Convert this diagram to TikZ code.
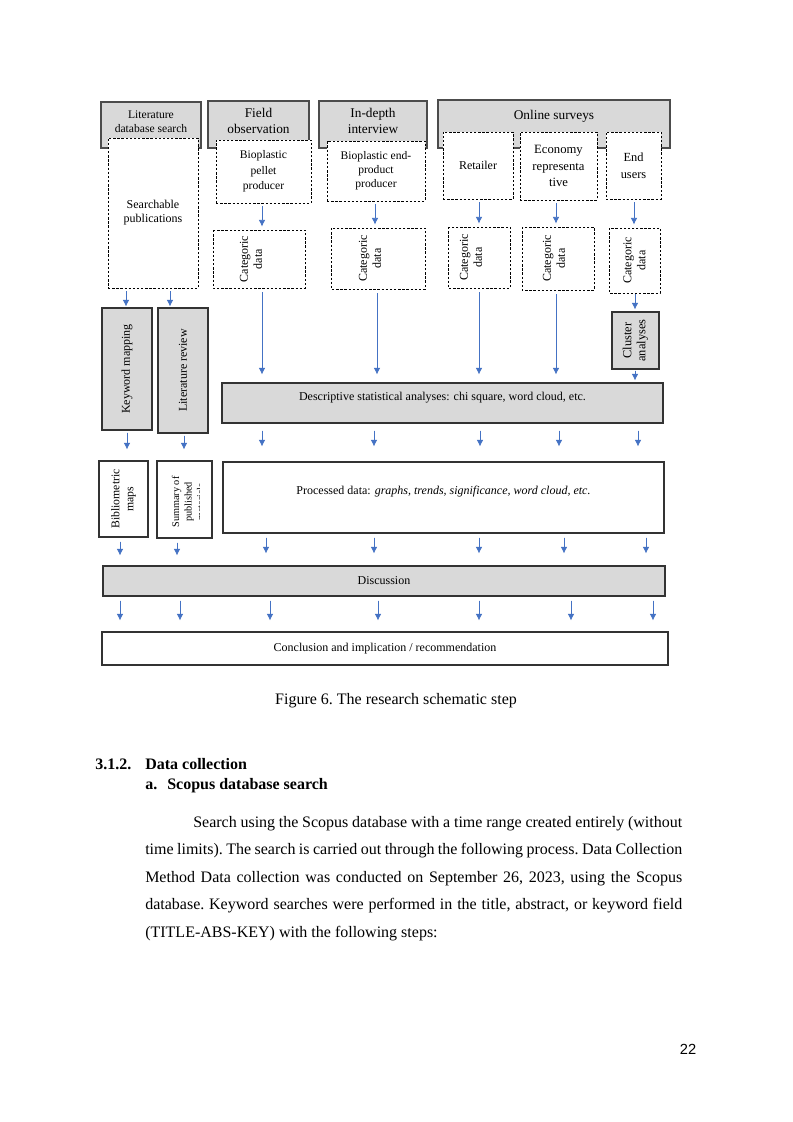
\documentclass[tikz,border=0pt]{standalone}
\usepackage{fontspec}
\setmainfont{Liberation Serif}
\newfontfamily\pagenumfont{Liberation Sans}
\usepackage{xcolor}
\usetikzlibrary{arrows.meta}
\definecolor{arrblue}{HTML}{4472C4}

\begin{document}
\begin{tikzpicture}[
  x=0.75pt, y=-0.75pt,
  font=\fontsize{9}{10.5}\selectfont,
  hdrbox/.style={draw=black!70, line width=0.9pt, fill=black!15, align=center, inner sep=1pt},
  grpbox/.style={draw=black, dash pattern=on 1.8pt off 1.3pt, line width=0.7pt, fill=white, align=center, inner sep=1pt},
  graybox/.style={draw=black!80, line width=0.8pt, fill=black!15, align=center, inner sep=1pt},
  whitebox/.style={draw=black!80, line width=0.8pt, fill=white, align=center, inner sep=1pt},
  arr/.style={-{Latex[length=5pt, width=5pt]}, draw=arrblue, fill=arrblue, line width=0.6pt},
  bodytext/.style={font=\frenchspacing\fontsize{12}{20.6}\selectfont, inner sep=0pt}
]
  \path[fill=white] (0,0) rectangle (793,1122);

  % Row 1: data sources
  \node[hdrbox, minimum width=75pt, minimum height=34.5pt, text depth=5pt, font=\fontsize{8.7}{10.5}\selectfont] (lit) at (151,125) {Literature\\database search};
  \node[hdrbox, minimum width=75.75pt, minimum height=35.25pt, text depth=5pt, font=\fontsize{10}{12}\selectfont] (fld) at (258.5,124.5) {Field\\observation};
  \node[hdrbox, minimum width=81pt, minimum height=35.25pt, text depth=5pt, font=\fontsize{10}{12}\selectfont] (idi) at (373,124.5) {In-depth\\interview};
  \node[hdrbox, minimum width=174pt, minimum height=36pt, text depth=14pt, font=\fontsize{10}{12}\selectfont] (ons) at (554,124) {Online surveys};

  % Row 2: respondents / publications
  \node[grpbox, minimum width=67.5pt, minimum height=112.5pt] (pub) at (153,213) {Searchable\\publications};
  \node[grpbox, minimum width=71.25pt, minimum height=47.25pt, font=\fontsize{8.7}{11.6}\selectfont] (bpp) at (263.5,171.5) {Bioplastic\\pellet\\producer};
  \node[grpbox, minimum width=73.5pt, minimum height=45pt, font=\fontsize{8.7}{10.5}\selectfont] (bep) at (376,171) {Bioplastic end-\\product\\producer};
  \node[grpbox, minimum width=52.5pt, minimum height=50.25pt] (ret) at (478,165.5) {Retailer};
  \node[grpbox, minimum width=57.75pt, minimum height=51pt, font=\fontsize{9.5}{12.4}\selectfont] (eco) at (558.5,166) {Economy\\representa\\tive};
  \node[grpbox, minimum width=41.25pt, minimum height=50.25pt, font=\fontsize{9.3}{12.75}\selectfont] (end) at (633.5,165.5) {End\\users};

  % Row 3: categoric data
  \node[grpbox, rotate=90, minimum width=43.5pt, minimum height=69pt, text depth=12pt] (cat1) at (259,259) {Categoric\\data};
  \node[grpbox, rotate=90, minimum width=45.75pt, minimum height=70.5pt, text depth=12pt] (cat2) at (378,258.5) {Categoric\\data};
  \node[grpbox, rotate=90, minimum width=45.75pt, minimum height=46.5pt, text depth=12pt] (cat3) at (479,257.5) {Categoric\\data};
  \node[grpbox, rotate=90, minimum width=47.25pt, minimum height=54pt, text depth=6pt] (cat4) at (558,258.5) {Categoric\\data};
  \node[grpbox, rotate=90, minimum width=48.75pt, minimum height=38.25pt] (cat5) at (634.5,260.5) {Categoric\\data};

  % Row 4: analyses
  \node[graybox, rotate=90, minimum width=91.5pt, minimum height=37.5pt] (kwm) at (127,369) {Keyword mapping};
  \node[graybox, rotate=90, minimum width=93.75pt, minimum height=37.5pt] (lrv) at (183,370.5) {Literature review};
  \node[graybox, rotate=90, minimum width=42.75pt, minimum height=35.25pt, font=\fontsize{9.3}{10.5}\selectfont] (clu) at (635.5,340.5) {Cluster\\analyses};
  \node[graybox, minimum width=330.75pt, minimum height=30pt, text depth=10pt] (des) at (442.5,403) {Descriptive statistical analyses: chi square, word cloud, etc.};

  % Row 5: results
  \node[whitebox, rotate=90, minimum width=57pt, minimum height=36.75pt, font=\fontsize{8.8}{10.5}\selectfont] (bib) at (123.5,499) {Bibliometric\\maps};
  \node[whitebox, rotate=90, minimum width=57.75pt, minimum height=41.25pt] (sum) at (184.5,499.5) {};
  \begin{scope}
    \clip (157,461) rectangle (199.5,538);
    \node[rotate=90, align=center, inner sep=0pt, font=\fontsize{7.7}{9.4}\selectfont] (sumtxt) at (188,502) {Summary of\\published\\materials};
  \end{scope}
  \node[whitebox, minimum width=330.75pt, minimum height=53.25pt, text depth=11.6pt] (prc) at (443.5,497.5) {Processed data: \textit{graphs, trends, significance, word cloud, etc.}};

  % Row 6-7: discussion and conclusion
  \node[graybox, minimum width=421.5pt, minimum height=22.5pt] (dis) at (384,581) {Discussion};
  \node[whitebox, minimum width=424.5pt, minimum height=24.75pt] (con) at (385,648.5) {Conclusion and implication / recommendation};

  % Connectors
  \draw[arr, shorten <=2.25pt, shorten >=0.75pt] (pub.south -| 126,0) -- (kwm.east -| 126,0);
  \draw[arr, shorten <=2.25pt, shorten >=0.75pt] (pub.south -| 170,0) -- (lrv.east -| 170,0);
  \draw[arr, shorten <=2.25pt, shorten >=2.25pt] (bpp.south -| 262,0) -- (cat1.east -| 262,0);
  \draw[arr, shorten <=2.25pt, shorten >=2.25pt] (bep.south -| 375,0) -- (cat2.east -| 375,0);
  \draw[arr, shorten <=2.25pt, shorten >=2.25pt] (ret.south -| 479,0) -- (cat3.east -| 479,0);
  \draw[arr, shorten <=2.25pt, shorten >=2.25pt] (eco.south -| 556,0) -- (cat4.east -| 556,0);
  \draw[arr, shorten <=2.25pt, shorten >=2.25pt] (end.south -| 634,0) -- (cat5.east -| 634,0);

  \draw[arr, shorten <=3pt, shorten >=6pt] (cat1.west -| 262,0) -- (des.north -| 262,0);
  \draw[arr, shorten <=3pt, shorten >=6pt] (cat2.west -| 377,0) -- (des.north -| 377,0);
  \draw[arr, shorten <=3pt, shorten >=6pt] (cat3.west -| 479,0) -- (des.north -| 479,0);
  \draw[arr, shorten <=3pt, shorten >=6pt] (cat4.west -| 556,0) -- (des.north -| 556,0);
  \draw[arr, shorten <=0.75pt, shorten >=1.5pt] (cat5.west -| 635,0) -- (clu.east -| 635,0);
  \draw[arr, shorten <=0.75pt, shorten >=1.5pt] (clu.west -| 635,0) -- (des.north -| 635,0);

  \draw[arr, shorten <=1.5pt, shorten >=8.25pt] (kwm.west -| 127,0) -- (bib.east -| 127,0);
  \draw[arr, shorten <=1.5pt, shorten >=8.25pt] (lrv.west -| 184,0) -- (sum.east -| 184,0);
  \draw[arr, shorten <=5.25pt, shorten >=11.25pt] (des.south -| 262,0) -- (prc.north -| 262,0);
  \draw[arr, shorten <=5.25pt, shorten >=11.25pt] (des.south -| 374,0) -- (prc.north -| 374,0);
  \draw[arr, shorten <=5.25pt, shorten >=11.25pt] (des.south -| 480,0) -- (prc.north -| 480,0);
  \draw[arr, shorten <=5.25pt, shorten >=11.25pt] (des.south -| 559,0) -- (prc.north -| 559,0);
  \draw[arr, shorten <=5.25pt, shorten >=11.25pt] (des.south -| 638,0) -- (prc.north -| 638,0);

  \draw[arr, shorten <=3pt, shorten >=7.5pt] (bib.west -| 120,0) -- (dis.north -| 120,0);
  \draw[arr, shorten <=3pt, shorten >=7.5pt] (sum.west -| 177,0) -- (dis.north -| 177,0);
  \draw[arr, shorten <=3pt, shorten >=9pt] (prc.south -| 266,0) -- (dis.north -| 266,0);
  \draw[arr, shorten <=3pt, shorten >=9pt] (prc.south -| 374,0) -- (dis.north -| 374,0);
  \draw[arr, shorten <=3pt, shorten >=9pt] (prc.south -| 479,0) -- (dis.north -| 479,0);
  \draw[arr, shorten <=3pt, shorten >=9pt] (prc.south -| 564,0) -- (dis.north -| 564,0);
  \draw[arr, shorten <=3pt, shorten >=9pt] (prc.south -| 646,0) -- (dis.north -| 646,0);

  \draw[arr, shorten <=3pt, shorten >=8.25pt] (dis.south -| 120,0) -- (con.north -| 120,0);
  \draw[arr, shorten <=3pt, shorten >=8.25pt] (dis.south -| 180,0) -- (con.north -| 180,0);
  \draw[arr, shorten <=3pt, shorten >=8.25pt] (dis.south -| 270,0) -- (con.north -| 270,0);
  \draw[arr, shorten <=3pt, shorten >=8.25pt] (dis.south -| 378,0) -- (con.north -| 378,0);
  \draw[arr, shorten <=3pt, shorten >=8.25pt] (dis.south -| 479,0) -- (con.north -| 479,0);
  \draw[arr, shorten <=3pt, shorten >=8.25pt] (dis.south -| 571,0) -- (con.north -| 571,0);
  \draw[arr, shorten <=3pt, shorten >=8.25pt] (dis.south -| 653,0) -- (con.north -| 653,0);

  % Caption and page text
  \node[bodytext, anchor=base] (cap) at (396,704) {Figure 6. The research schematic step};
  \node[bodytext, anchor=base west] (secnum) at (95,769) {\bfseries 3.1.2.};
  \node[bodytext, anchor=base west] (sectitle) at (145,769) {\bfseries Data collection};
  \node[bodytext, anchor=base west] (subnum) at (145,789) {\bfseries a.};
  \node[bodytext, anchor=base west] (subtitle) at (167,789) {\bfseries Scopus database search};
  \node[bodytext, anchor=north west, text width=402.75pt, align=justify] (para) at (145,816)
    {\hspace*{36pt}Search using the Scopus database with a time range created entirely (without\linebreak
     time limits). The search is carried out through the following process. Data Collection\linebreak
     Method Data collection was conducted on September 26, 2023, using the Scopus\linebreak
     database. Keyword searches were performed in the title, abstract, or keyword field\linebreak
     (TITLE-ABS-KEY) with the following steps:};
  \node[inner sep=0pt, font=\pagenumfont\fontsize{11}{13}\selectfont] (pgn) at (688,1049) {22};
\end{tikzpicture}
\end{document}
